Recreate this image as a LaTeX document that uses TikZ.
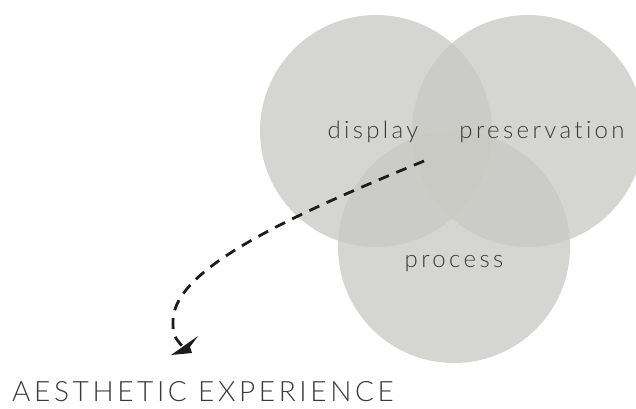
\documentclass[tikz,border=0pt]{standalone}
\usepackage{fontspec}
\IfFontExistsTF{Lato Light}{\setmainfont{Lato Light}[Ligatures=NoCommon]}{\setmainfont{Lato}[Ligatures=NoCommon]}
\definecolor{circfill}{RGB}{200,201,195}
\definecolor{txt}{RGB}{58,58,58}
\definecolor{arrowc}{RGB}{28,28,28}
\tikzset{
  venn/.style={circle, fill=circfill, fill opacity=0.76, inner sep=0pt, minimum size=232pt},
  lbl/.style={anchor=base, text=txt, font=\fontsize{24}{24}\selectfont\addfontfeatures{LetterSpace=14}},
  title/.style={anchor=base, text=txt, font=\fontsize{28}{28}\selectfont\addfontfeatures{LetterSpace=13}},
  dashline/.style={draw=arrowc, line width=2.8pt, dash pattern=on 11pt off 8pt}
}
\begin{document}
\begin{tikzpicture}[x=1pt,y=-1pt]
\useasboundingbox (0,0) rectangle (636,408);
\node[venn] (cd) at (376,131) {};
\node[venn] (cp) at (528,131) {};
\node[venn] (cr) at (454,247) {};
\node[lbl] (ld) at (373,138) {display};
\node[lbl] (lp) at (542,138) {preservation};
\node[lbl] (lr) at (454,267) {process};
\node[title] (ae) at (203,401) {AESTHETIC EXPERIENCE};
\coordinate (s) at (424,161);
\coordinate (e) at (182,346);
\draw[dashline] (s) .. controls (280,220) and (175,270) .. (173,320) .. controls (173,335) .. (e);
\fill[arrowc] (171,355) -- (198,336) -- (190,347) -- (192,353) -- cycle;
\end{tikzpicture}
\end{document}
